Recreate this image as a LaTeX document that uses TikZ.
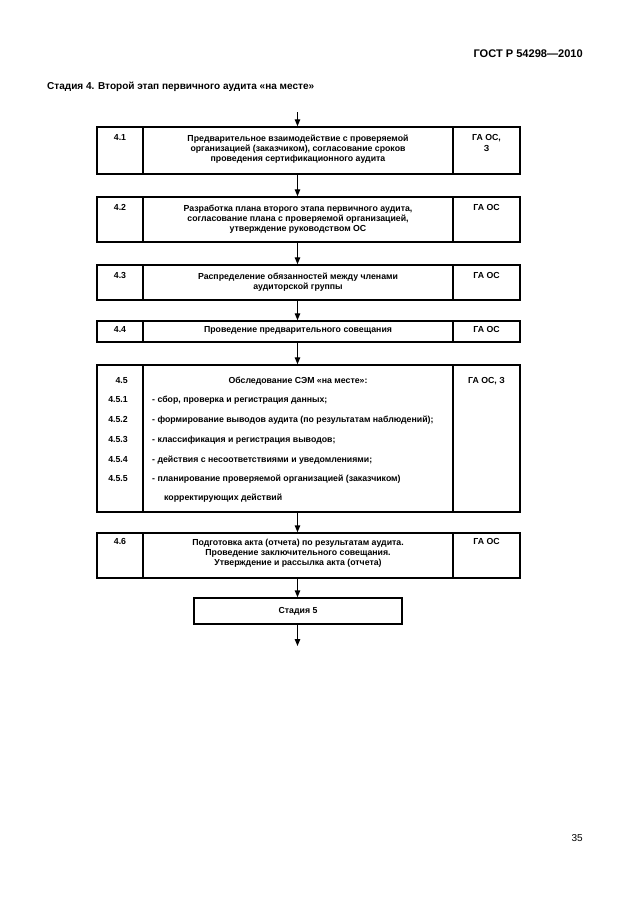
\documentclass[tikz,border=0pt]{standalone}
\usepackage{fontspec}
\setmainfont{Liberation Sans}
\usetikzlibrary{arrows.meta}
\newcommand\pxu{0.3333mm}
\begin{document}
\begin{tikzpicture}[x=0.3333mm,y=-0.3333mm,
  box/.style={draw, line width=1.4pt, rectangle, inner sep=0pt, minimum width={423*\pxu}},
  divider/.style={line width=1.4pt},
  flow/.style={line width=1.2pt, -{Triangle[length=2.3mm,width=1.8mm]}},
  txt/.style={font=\fontsize{8.3pt}{9.8pt}\selectfont\bfseries, align=center, inner sep=0pt, anchor=north},
  ltxt/.style={font=\fontsize{8.3pt}{9.8pt}\selectfont\bfseries, inner sep=0pt, anchor=base west},
  ntxt/.style={font=\fontsize{8.3pt}{9.8pt}\selectfont\bfseries, inner sep=0pt, anchor=base east},
  head/.style={font=\fontsize{9.5pt}{11pt}\selectfont\bfseries, inner sep=0pt}]
\useasboundingbox (0,0) rectangle (630,913);

% header
\node[head, font=\fontsize{10.5pt}{12pt}\selectfont\bfseries, anchor=base east] (gost) at (583,57) {ГОСТ Р 54298—2010};
\node[head, anchor=base west] (title) at (47,89) {Стадия 4. Второй этап первичного аудита «на месте»};
\node[font=\fontsize{9.5pt}{11pt}\selectfont, inner sep=0pt, anchor=base east] (page) at (583,841) {35};

% boxes
\node[box, minimum height={47*\pxu}] (b41) at (308.5,150.5) {};
\node[box, minimum height={45*\pxu}] (b42) at (308.5,219.5) {};
\node[box, minimum height={35*\pxu}] (b43) at (308.5,282.5) {};
\node[box, minimum height={21*\pxu}] (b44) at (308.5,331.5) {};
\node[box, minimum height={147*\pxu}] (b45) at (308.5,438.5) {};
\node[box, minimum height={45*\pxu}] (b46) at (308.5,555.5) {};
\node[box, minimum width={208*\pxu}, minimum height={26*\pxu}, font=\fontsize{8.3pt}{9.8pt}\selectfont\bfseries] (s5) at (298,611) {Стадия 5};

% dividers
\foreach \t/\b in {127/174,197/242,265/300,321/342,365/512,533/578}{
  \draw[divider] (143,\t) -- (143,\b);
  \draw[divider] (453,\t) -- (453,\b);
}

% arrows
\coordinate (ax) at (297.5,0);
\coordinate (start) at (297.5,112);
\coordinate (end) at (297.5,646);
\draw[flow] (start) -- (b41.north -| ax);
\draw[flow] (b41.south -| ax) -- (b42.north -| ax);
\draw[flow] (b42.south -| ax) -- (b43.north -| ax);
\draw[flow] (b43.south -| ax) -- (b44.north -| ax);
\draw[flow] (b44.south -| ax) -- (b45.north -| ax);
\draw[flow] (b45.south -| ax) -- (b46.north -| ax);
\draw[flow] (b46.south -| ax) -- (s5.north -| ax);
\draw[flow] (s5.south -| ax) -- (end);

% 4.1
\node[txt] (n41) at (120,134.5) {4.1};
\node[txt] (t41) at (298,134.5) {Предварительное взаимодействие с проверяемой\\организацией (заказчиком), согласование сроков\\проведения сертификационного аудита};
\node[txt] (r41) at (486.5,134.5) {ГА ОС,\\З};
% 4.2
\node[txt] (n42) at (120,204.5) {4.2};
\node[txt] (t42) at (298,204.5) {Разработка плана второго этапа первичного аудита,\\согласование плана с проверяемой организацией,\\утверждение руководством ОС};
\node[txt] (r42) at (486.5,204.5) {ГА ОС};
% 4.3
\node[txt] (n43) at (120,272.5) {4.3};
\node[txt] (t43) at (298,272.5) {Распределение обязанностей между членами\\аудиторской группы};
\node[txt] (r43) at (486.5,272.5) {ГА ОС};
% 4.4
\node[txt] (n44) at (120,326.5) {4.4};
\node[txt] (t44) at (298,326.5) {Проведение предварительного совещания};
\node[txt] (r44) at (486.5,326.5) {ГА ОС};
% 4.5
\node[ntxt] (n45) at (128,383) {4.5};
\node[ltxt, anchor=base] (t45) at (298,383) {Обследование СЭМ «на месте»:};
\node[ltxt, anchor=base] (r45) at (486.5,383) {ГА ОС, З};
\node[ntxt] (n451) at (128,402) {4.5.1};
\node[ltxt] (t451) at (152,402) {- сбор, проверка и регистрация данных;};
\node[ntxt] (n452) at (128,422) {4.5.2};
\node[ltxt] (t452) at (152,422) {- формирование выводов аудита (по результатам наблюдений);};
\node[ntxt] (n453) at (128,442) {4.5.3};
\node[ltxt] (t453) at (152,442) {- классификация и регистрация выводов;};
\node[ntxt] (n454) at (128,462) {4.5.4};
\node[ltxt] (t454) at (152,462) {- действия с несоответствиями и уведомлениями;};
\node[ntxt] (n455) at (128,481) {4.5.5};
\node[ltxt] (t455) at (152,481) {- планирование проверяемой организацией (заказчиком)};
\node[ltxt] (t455b) at (164,500) {корректирующих действий};
% 4.6
\node[txt] (n46) at (120,538.5) {4.6};
\node[txt] (t46) at (298,538.5) {Подготовка акта (отчета) по результатам аудита.\\Проведение заключительного совещания.\\Утверждение и рассылка акта (отчета)};
\node[txt] (r46) at (486.5,538.5) {ГА ОС};
\end{tikzpicture}
\end{document}
